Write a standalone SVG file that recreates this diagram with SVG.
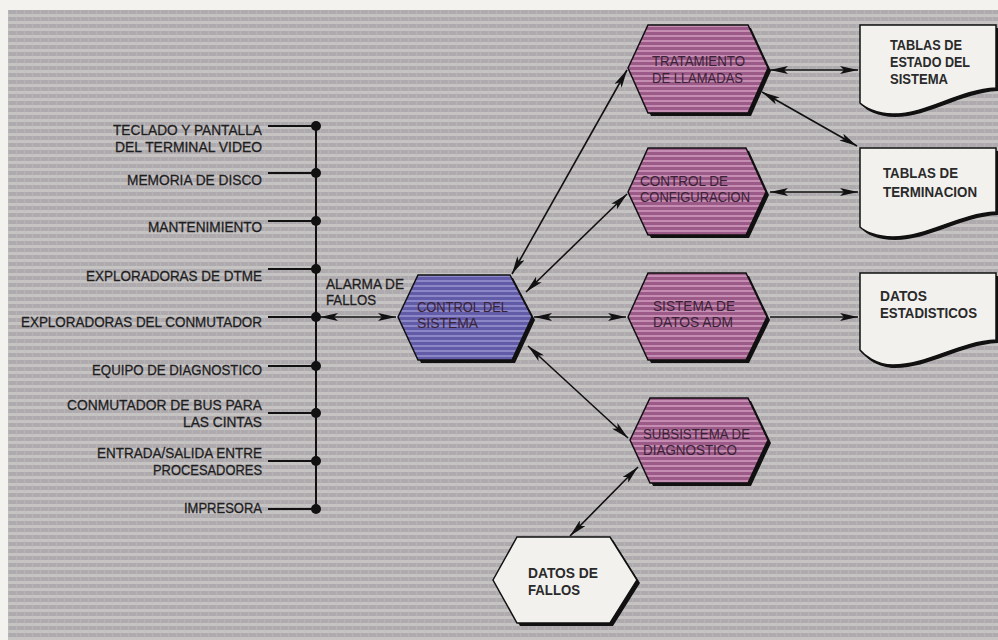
<svg xmlns="http://www.w3.org/2000/svg" width="998" height="640" viewBox="0 0 998 640">
<defs>
<pattern id="bg" width="8" height="7" patternUnits="userSpaceOnUse">
<rect width="8" height="7" fill="#afaaae"/>
<rect y="0" width="8" height="3" fill="#c6c3c3"/>
<rect x="0" width="1" height="7" fill="#c0bdc0" opacity="0.5"/>
</pattern>
<pattern id="pur" width="6" height="5" patternUnits="userSpaceOnUse">
<rect width="6" height="5" fill="#9c5a88"/>
<rect width="6" height="2" fill="#c58db2"/>
</pattern>
<pattern id="blu" width="6" height="5" patternUnits="userSpaceOnUse">
<rect width="6" height="5" fill="#625ca8"/>
<rect width="6" height="2" fill="#8c88c8"/>
</pattern>
<marker id="ah" viewBox="0 0 18 8" refX="18" refY="4" markerWidth="18" markerHeight="8" markerUnits="userSpaceOnUse" orient="auto-start-reverse">
<path d="M0,0 L18,4 L0,8 L4,4 Z" fill="#111"/>
</marker>
<style>
.lbl{font-family:"Liberation Sans",Arial,sans-serif;font-size:15px;fill:#1e1e1e;stroke:#1e1e1e;stroke-width:0.3;}
.sm{font-size:14px;}
.r{text-anchor:end;}
.box{font-family:"Liberation Sans",Arial,sans-serif;font-size:15px;font-weight:bold;fill:#2a2a2a;}
.hx{font-family:"Liberation Sans",Arial,sans-serif;font-size:14px;fill:#3a2236;}
.ln{stroke:#111;stroke-width:2;fill:none;}
.con{stroke:#111;stroke-width:1.6;fill:none;}
.dot{fill:#111;}
.shadow{fill:#111;}
.doc{fill:#f2f1ee;stroke:#111;stroke-width:1.5;}
</style>
</defs>
<rect width="998" height="640" fill="#f3f2ef"/>
<rect x="8" y="10" width="990" height="630" fill="url(#bg)"/>

<g id="bus">
<line class="ln" x1="316" y1="126" x2="316" y2="509"/>
<line class="ln" x1="268" y1="126" x2="316" y2="126"/>
<line class="ln" x1="268" y1="173" x2="316" y2="173"/>
<line class="ln" x1="268" y1="221" x2="316" y2="221"/>
<line class="ln" x1="268" y1="269" x2="316" y2="269"/>
<line class="ln" x1="268" y1="317" x2="316" y2="317"/>
<line class="ln" x1="268" y1="366" x2="316" y2="366"/>
<line class="ln" x1="268" y1="413" x2="316" y2="413"/>
<line class="ln" x1="268" y1="461" x2="316" y2="461"/>
<line class="ln" x1="268" y1="509" x2="316" y2="509"/>
<circle class="dot" cx="316" cy="126" r="5"/>
<circle class="dot" cx="316" cy="173" r="5"/>
<circle class="dot" cx="316" cy="221" r="5"/>
<circle class="dot" cx="316" cy="269" r="5"/>
<circle class="dot" cx="316" cy="317" r="5"/>
<circle class="dot" cx="316" cy="366" r="5"/>
<circle class="dot" cx="316" cy="413" r="5"/>
<circle class="dot" cx="316" cy="461" r="5"/>
<circle class="dot" cx="316" cy="509" r="5"/>
</g>

<g id="inputs">
<text class="lbl r" x="262" y="135" textLength="149" lengthAdjust="spacingAndGlyphs">TECLADO Y PANTALLA</text>
<text class="lbl r" x="262" y="152" textLength="147" lengthAdjust="spacingAndGlyphs">DEL TERMINAL VIDEO</text>
<text class="lbl r" x="262" y="185" textLength="135" lengthAdjust="spacingAndGlyphs">MEMORIA DE DISCO</text>
<text class="lbl r" x="262" y="232" textLength="114" lengthAdjust="spacingAndGlyphs">MANTENIMIENTO</text>
<text class="lbl r" x="262" y="281" textLength="176" lengthAdjust="spacingAndGlyphs">EXPLORADORAS DE DTME</text>
<text class="lbl r" x="262" y="327" textLength="241" lengthAdjust="spacingAndGlyphs">EXPLORADORAS DEL CONMUTADOR</text>
<text class="lbl r" x="262" y="375" textLength="170" lengthAdjust="spacingAndGlyphs">EQUIPO DE DIAGNOSTICO</text>
<text class="lbl r" x="262" y="410" textLength="195" lengthAdjust="spacingAndGlyphs">CONMUTADOR DE BUS PARA</text>
<text class="lbl r" x="262" y="427" textLength="79" lengthAdjust="spacingAndGlyphs">LAS CINTAS</text>
<text class="lbl r" x="262" y="458" textLength="165" lengthAdjust="spacingAndGlyphs">ENTRADA/SALIDA ENTRE</text>
<text class="lbl r" x="262" y="475" textLength="109" lengthAdjust="spacingAndGlyphs">PROCESADORES</text>
<text class="lbl r" x="262" y="513" textLength="78" lengthAdjust="spacingAndGlyphs">IMPRESORA</text>
</g>

<g id="connectors">
<line class="con" x1="320" y1="317" x2="396" y2="317" marker-start="url(#ah)" marker-end="url(#ah)"/>
<line class="con" x1="512" y1="274" x2="627" y2="70" marker-start="url(#ah)" marker-end="url(#ah)"/>
<line class="con" x1="526" y1="292" x2="627" y2="194" marker-start="url(#ah)" marker-end="url(#ah)"/>
<line class="con" x1="534" y1="317" x2="626" y2="317" marker-start="url(#ah)" marker-end="url(#ah)"/>
<line class="con" x1="528" y1="346" x2="628" y2="438" marker-start="url(#ah)" marker-end="url(#ah)"/>
<line class="con" x1="638" y1="467" x2="570" y2="536" marker-start="url(#ah)" marker-end="url(#ah)"/>
<line class="con" x1="770" y1="70" x2="858" y2="70" marker-start="url(#ah)" marker-end="url(#ah)"/>
<line class="con" x1="762" y1="92" x2="857" y2="146" marker-start="url(#ah)" marker-end="url(#ah)"/>
<line class="con" x1="770" y1="192" x2="858" y2="192" marker-start="url(#ah)" marker-end="url(#ah)"/>
<line class="con" x1="770" y1="317" x2="858" y2="317" marker-end="url(#ah)"/>
</g>

<g id="alarma">
<text class="lbl sm" x="326" y="289" textLength="78" lengthAdjust="spacingAndGlyphs">ALARMA DE</text>
<text class="lbl sm" x="326" y="305" textLength="50" lengthAdjust="spacingAndGlyphs">FALLOS</text>
</g>

<g id="control-sistema">
<polygon class="shadow" points="401,320 421,278 513,278 535,320 515,363 421,363"/>
<polygon points="398,317 418,275 510,275 532,317 512,360 418,360" fill="url(#blu)" stroke="#111" stroke-width="1.5"/>
<text class="hx" x="417" y="312" textLength="91" lengthAdjust="spacingAndGlyphs">CONTROL DEL</text>
<text class="hx" x="417" y="328" textLength="61" lengthAdjust="spacingAndGlyphs">SISTEMA</text>
</g>

<g id="tratamiento">
<polygon class="shadow" points="631,71 651,28 751,28 771,71 751,116 651,116"/>
<polygon points="628,68 648,25 748,25 768,68 748,113 648,113" fill="url(#pur)" stroke="#111" stroke-width="1.5"/>
<text class="hx" x="652" y="66" textLength="93" lengthAdjust="spacingAndGlyphs">TRATAMIENTO</text>
<text class="hx" x="652" y="83" textLength="91" lengthAdjust="spacingAndGlyphs">DE LLAMADAS</text>
</g>

<g id="config">
<polygon class="shadow" points="631,195 651,151 749,151 769,195 749,238 651,238"/>
<polygon points="628,192 648,148 746,148 766,192 746,235 648,235" fill="url(#pur)" stroke="#111" stroke-width="1.5"/>
<text class="hx" x="640" y="186" textLength="88" lengthAdjust="spacingAndGlyphs">CONTROL DE</text>
<text class="hx" x="640" y="202" textLength="110" lengthAdjust="spacingAndGlyphs">CONFIGURACION</text>
</g>

<g id="datos-adm">
<polygon class="shadow" points="631,320 651,276 749,276 770,320 749,363 651,363"/>
<polygon points="628,317 648,273 746,273 767,317 746,360 648,360" fill="url(#pur)" stroke="#111" stroke-width="1.5"/>
<text class="hx" x="653" y="311" textLength="82" lengthAdjust="spacingAndGlyphs">SISTEMA DE</text>
<text class="hx" x="653" y="327" textLength="80" lengthAdjust="spacingAndGlyphs">DATOS ADM</text>
</g>

<g id="diagnostico">
<polygon class="shadow" points="633,443 653,401 751,401 771,443 751,486 653,486"/>
<polygon points="630,440 650,398 748,398 768,440 748,483 650,483" fill="url(#pur)" stroke="#111" stroke-width="1.5"/>
<text class="hx" x="643" y="439" textLength="107" lengthAdjust="spacingAndGlyphs">SUBSISTEMA DE</text>
<text class="hx" x="643" y="455" textLength="94" lengthAdjust="spacingAndGlyphs">DIAGNOSTICO</text>
</g>

<g id="datos-fallos">
<polygon class="shadow" points="496,583 520,540 613,540 640,583 613,626 520,626"/>
<polygon points="493,580 517,537 610,537 637,580 610,623 517,623" fill="#f2f1ee" stroke="#111" stroke-width="1.5"/>
<text class="box" x="528" y="578" textLength="70" lengthAdjust="spacingAndGlyphs">DATOS DE</text>
<text class="box" x="528" y="595" textLength="52" lengthAdjust="spacingAndGlyphs">FALLOS</text>
</g>

<g id="tablas-estado">
<path class="shadow" d="M863,28 L998,28 L998,91 C960,93 930,117 895,117 C878,117 866,110 863,106 Z"/>
<path class="doc" d="M860,25 L996,25 L996,88 C958,90 928,114 893,114 C876,114 864,107 860,103 Z"/>
<text class="box" x="890" y="50" textLength="72" lengthAdjust="spacingAndGlyphs">TABLAS DE</text>
<text class="box" x="890" y="67" textLength="80" lengthAdjust="spacingAndGlyphs">ESTADO DEL</text>
<text class="box" x="890" y="84" textLength="58" lengthAdjust="spacingAndGlyphs">SISTEMA</text>
</g>

<g id="tablas-terminacion">
<path class="shadow" d="M863,151 L998,151 L998,215 C960,217 930,240 895,240 C878,240 866,234 863,230 Z"/>
<path class="doc" d="M860,148 L996,148 L996,212 C958,214 928,237 893,237 C876,237 864,231 860,227 Z"/>
<text class="box" x="883" y="178" textLength="75" lengthAdjust="spacingAndGlyphs">TABLAS DE</text>
<text class="box" x="883" y="197" textLength="94" lengthAdjust="spacingAndGlyphs">TERMINACION</text>
</g>

<g id="datos-estadisticos">
<path class="shadow" d="M863,276 L998,276 L998,343 C960,345 930,368 895,368 C878,368 866,358 863,353 Z"/>
<path class="doc" d="M860,273 L996,273 L996,340 C958,342 928,365 893,365 C876,365 864,355 860,350 Z"/>
<text class="box" x="880" y="301" textLength="47" lengthAdjust="spacingAndGlyphs">DATOS</text>
<text class="box" x="880" y="318" textLength="97" lengthAdjust="spacingAndGlyphs">ESTADISTICOS</text>
</g>
</svg>
